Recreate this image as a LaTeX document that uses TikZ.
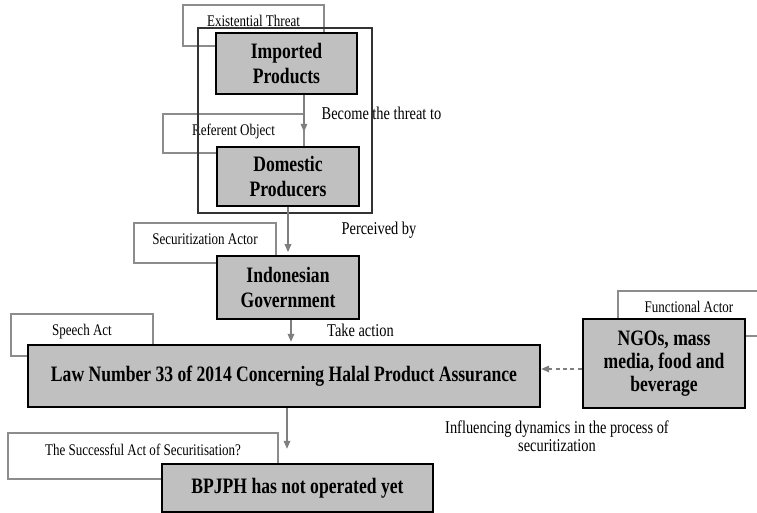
\documentclass[tikz,border=0pt]{standalone}
\usepackage{fontspec}
\setmainfont{Liberation Serif}[FakeStretch=0.8]
\usetikzlibrary{arrows.meta,positioning,calc}
\definecolor{boxgray}{HTML}{C0C0C0}
\definecolor{taggray}{HTML}{8C8C8C}
\definecolor{flowgray}{HTML}{7F7F7F}
\tikzset{
  actor/.style={rectangle,draw=black,line width=1.8pt,fill=boxgray,align=center,inner sep=0pt,font=\bfseries\fontsize{16.5}{18.5}\selectfont},
  tagbox/.style={rectangle,draw=taggray,line width=1.5pt,fill=white,anchor=north west,inner sep=0pt,text height=16.5pt,font=\fontsize{12.2}{14}\selectfont},
  outerframe/.style={rectangle,draw=black!80,line width=0.8pt,inner sep=0pt},
  flow/.style={-{Triangle[length=6pt,width=5pt]},line width=0.9pt,flowgray},
  note/.style={font=\fontsize{13.5}{13.5}\selectfont,align=center}
}

\begin{document}
\begin{tikzpicture}[x=0.75pt,y=-0.75pt]
    \useasboundingbox (0,0) rectangle (757,513);
    % role tags behind the boxes
    \node[tagbox,minimum width=105.75pt,text depth=14.25pt] (threattag) at (182,4) {Existential Threat};
    \node[tagbox,minimum width=105.75pt,text depth=12.75pt] (referenttag) at (162,113) {Referent Object};
    \node[tagbox,minimum width=106.5pt,text depth=13.5pt] (actortag) at (133,222) {Securitization Actor};
    \node[tagbox,minimum width=106.5pt,text depth=15pt] (speechtag) at (10,313) {Speech Act};
    \node[tagbox,minimum width=106.5pt,text depth=17.25pt] (functag) at (617,290) {Functional Actor};
    \node[tagbox,minimum width=202.5pt,text depth=18pt] (successtag) at (7,432) {The Successful Act of Securitisation?};
    \node[outerframe,minimum width=130.5pt,minimum height=138.75pt] (threatframe) at (285,120.5) {};
    % main boxes
    \node[actor,minimum width=105.75pt,minimum height=45.75pt] (imported) at (286.5,63.5) {Imported\\Products};
    \node[actor,minimum width=106.5pt,minimum height=44.25pt] (domestic) at (288,176.5) {Domestic\\Producers};
    \node[actor,minimum width=106.5pt,minimum height=47.25pt] (government) at (288,287.5) {Indonesian\\Government};
    \node[actor,minimum width=384pt,minimum height=46.5pt] (law) at (284,376) {Law Number 33 of 2014 Concerning Halal Product Assurance};
    \node[actor,minimum width=121.5pt,minimum height=66.75pt,font=\bfseries\fontsize{16.5}{17}\selectfont] (ngos) at (664,363.5) {NGOs, mass\\media, food and\\beverage};
    \node[actor,minimum width=203.25pt,minimum height=36pt] (bpjph) at (297.5,488) {BPJPH has not operated yet};
    % connectors
    \draw[flow,shorten >=10.5pt] ([xshift=13.1pt]imported.south) -- ([xshift=13.1pt]imported.south |- domestic.north);
    \draw[flow,shorten >=2pt] (domestic.south) -- (government.north);
    \draw[flow,shorten >=1.5pt] ([xshift=2.25pt]government.south) -- ([xshift=2.25pt]government.south |- law.north);
    \draw[flow,shorten >=10.5pt] ([xshift=2.25pt]law.south) -- ([xshift=2.25pt]law.south |- bpjph.north);
    \draw[flow,dash pattern=on 3pt off 2.5pt] ([yshift=-4.1pt]ngos.west) -- ([yshift=-4.1pt]ngos.west -| law.east);
    % connector texts
    \node[note,anchor=west] (threatnote) at (317,113) {Become the threat to};
    \node[note] (perceivednote) at (379,230) {Perceived by};
    \node[note] (actionnote) at (360.5,330) {Take action};
    \node[note] (influencenote) at (557,436) {Influencing dynamics in the process of\\securitization};
\end{tikzpicture}
\end{document}
